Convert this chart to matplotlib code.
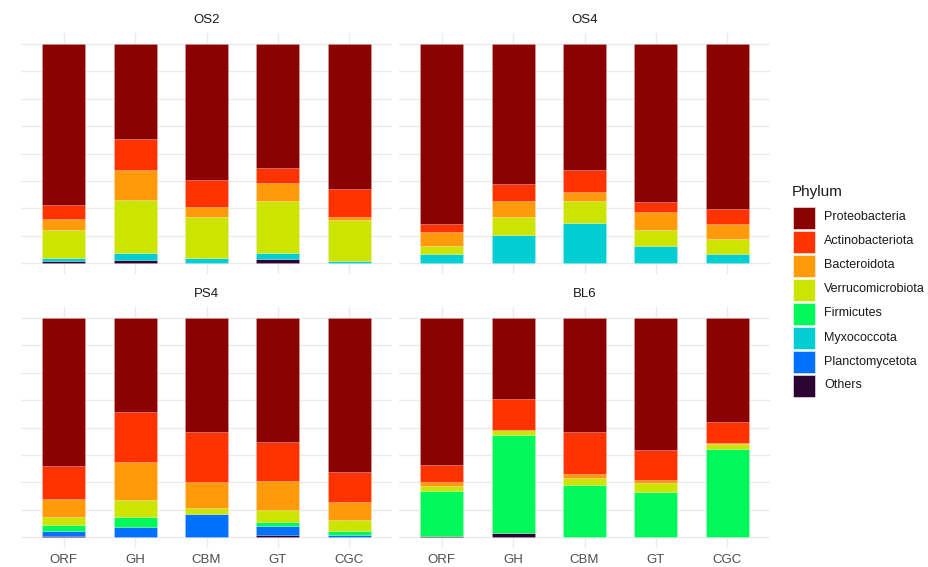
import matplotlib
matplotlib.use("Agg")
import matplotlib.pyplot as plt
from matplotlib.patches import Rectangle
import numpy as np

plt.rcParams["font.family"] = ["Liberation Sans", "DejaVu Sans"]

samples = ["ORF", "GH", "CBM", "GT", "CGC"]
sites = ["OS2", "OS4", "PS4", "BL6"]

# Legend order (top to bottom); stacking runs the reverse way (Others at the bottom)
phyla = ["Proteobacteria", "Actinobacteriota", "Bacteroidota", "Verrucomicrobiota",
         "Firmicutes", "Myxococcota", "Planctomycetota", "Others"]
colors = ["#8B0000", "#FF3300", "#FF9A0A", "#CCE500",
          "#00F85A", "#00CED3", "#0070FF", "#2C0535"]

# Relative abundance per site, one list per phylum, values in sample order
OS2 = {
    "Proteobacteria":    [0.735, 0.433, 0.619, 0.566, 0.660],
    "Actinobacteriota":  [0.062, 0.141, 0.126, 0.070, 0.128],
    "Bacteroidota":      [0.050, 0.138, 0.047, 0.080, 0.014],
    "Verrucomicrobiota": [0.130, 0.243, 0.184, 0.237, 0.187],
    "Firmicutes":        [0.000, 0.000, 0.000, 0.000, 0.000],
    "Myxococcota":       [0.015, 0.033, 0.024, 0.027, 0.011],
    "Planctomycetota":   [0.000, 0.000, 0.000, 0.000, 0.000],
    "Others":            [0.008, 0.012, 0.000, 0.020, 0.000],
}
OS4 = {
    "Proteobacteria":    [0.823, 0.638, 0.575, 0.720, 0.752],
    "Actinobacteriota":  [0.036, 0.078, 0.103, 0.046, 0.070],
    "Bacteroidota":      [0.062, 0.073, 0.038, 0.082, 0.067],
    "Verrucomicrobiota": [0.036, 0.082, 0.100, 0.074, 0.068],
    "Firmicutes":        [0.000, 0.000, 0.000, 0.000, 0.000],
    "Myxococcota":       [0.043, 0.129, 0.184, 0.078, 0.043],
    "Planctomycetota":   [0.000, 0.000, 0.000, 0.000, 0.000],
    "Others":            [0.000, 0.000, 0.000, 0.000, 0.000],
}
PS4 = {
    "Proteobacteria":    [0.674, 0.427, 0.521, 0.566, 0.702],
    "Actinobacteriota":  [0.152, 0.232, 0.226, 0.178, 0.136],
    "Bacteroidota":      [0.081, 0.172, 0.120, 0.133, 0.084],
    "Verrucomicrobiota": [0.038, 0.076, 0.029, 0.053, 0.050],
    "Firmicutes":        [0.026, 0.049, 0.000, 0.020, 0.020],
    "Myxococcota":       [0.000, 0.000, 0.000, 0.000, 0.000],
    "Planctomycetota":   [0.023, 0.044, 0.104, 0.041, 0.008],
    "Others":            [0.006, 0.000, 0.000, 0.009, 0.000],
}
BL6 = {
    "Proteobacteria":    [0.670, 0.370, 0.521, 0.602, 0.473],
    "Actinobacteriota":  [0.078, 0.140, 0.189, 0.139, 0.100],
    "Bacteroidota":      [0.017, 0.003, 0.021, 0.012, 0.004],
    "Verrucomicrobiota": [0.023, 0.023, 0.030, 0.040, 0.021],
    "Firmicutes":        [0.206, 0.447, 0.239, 0.207, 0.400],
    "Myxococcota":       [0.000, 0.000, 0.000, 0.000, 0.000],
    "Planctomycetota":   [0.000, 0.000, 0.000, 0.000, 0.000],
    "Others":            [0.006, 0.017, 0.000, 0.000, 0.002],
}
site_data = {"OS2": OS2, "OS4": OS4, "PS4": PS4, "BL6": BL6}

W, H = 929, 567
fig = plt.figure(figsize=(W / 100, H / 100), dpi=100)
fig.patch.set_facecolor("white")


def px_axes(x0, y0, x1, y1):
    """Axes placed by pixel box (top-left origin)."""
    return fig.add_axes([x0 / W, 1 - y1 / H, (x1 - x0) / W, (y1 - y0) / H])


panel_boxes = {
    "OS2": (21, 33, 392, 274),
    "OS4": (399, 33, 770, 274),
    "PS4": (21, 307, 392, 548),
    "BL6": (399, 307, 770, 548),
}
grid_col = "#EBEBEB"
x = np.arange(len(samples))

for site in sites:
    ax = px_axes(*panel_boxes[site])
    data = site_data[site]
    bottom = np.zeros(len(samples))
    for name, col in zip(phyla[::-1], colors[::-1]):
        vals = np.array(data[name])
        ax.bar(x, vals, bottom=bottom, width=0.6, color=col,
               edgecolor=(1, 1, 1, 0.25), linewidth=0.4, zorder=3)
        bottom += vals
    ax.set_xlim(-0.6, len(samples) - 0.4)
    ax.set_ylim(-0.05, 1.05)
    ax.set_yticks(np.arange(0, 1.001, 0.125))
    ax.set_xticks(x)
    ax.grid(True, color=grid_col, linewidth=1.0, zorder=0)
    ax.set_axisbelow(True)
    for s in ax.spines.values():
        s.set_visible(False)
    ax.tick_params(axis="both", length=0)
    ax.set_yticklabels([])
    if site in ("PS4", "BL6"):
        ax.set_xticklabels(samples, fontsize=9.5, color="#4D4D4D")
        ax.tick_params(axis="x", pad=4)
    else:
        ax.set_xticklabels([])
    ax.set_title(site, fontsize=9.5, color="#1A1A1A", pad=7)

# Legend
lg = fig.add_axes([0, 0, 1, 1])
lg.set_xlim(0, W)
lg.set_ylim(H, 0)
lg.axis("off")
lg.text(792, 192, "Phylum", fontsize=11, color="#1A1A1A", va="center", ha="left")
key_h, step = 22, 24.0
for i, (name, col) in enumerate(zip(phyla, colors)):
    y0 = 206.5 + i * step
    lg.add_patch(Rectangle((793, y0), 22, key_h, facecolor=col,
                           edgecolor=(1, 1, 1, 0.6), linewidth=0.6))
    lg.text(824, y0 + key_h / 2, name, fontsize=9, color="#1A1A1A",
            va="center", ha="left")

fig.savefig("out.png", dpi=100, facecolor="white")
